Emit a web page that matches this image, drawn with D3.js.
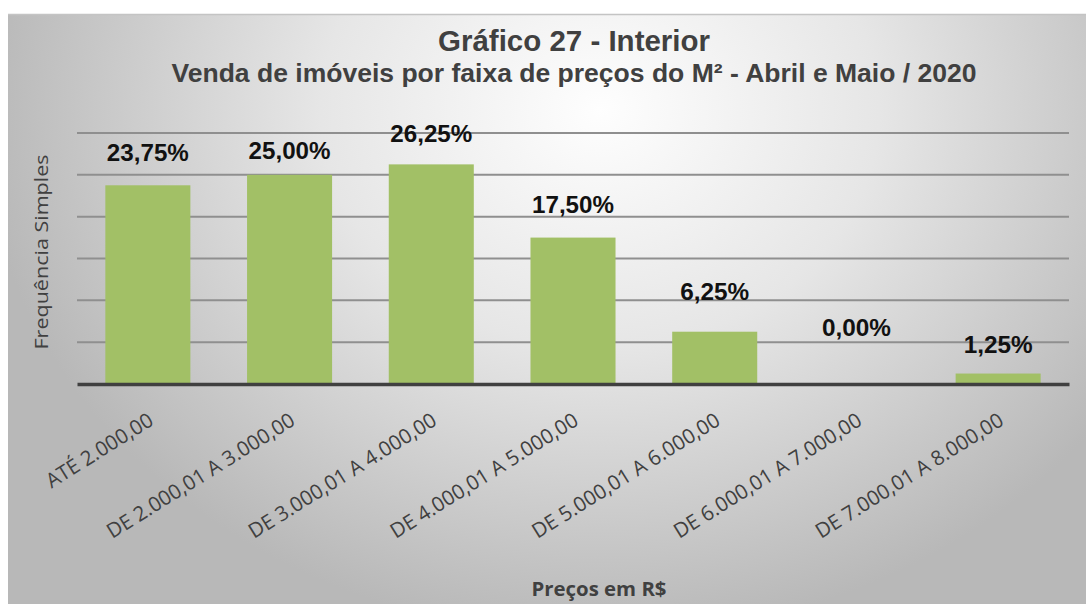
<!DOCTYPE html>
<html lang="pt">
<head>
<meta charset="utf-8">
<title>Gráfico 27 - Interior</title>
<script src="https://cdn.jsdelivr.net/npm/d3@7"></script>
<style>
    html, body { margin: 0; padding: 0; background: #fff; }
    svg { display: block; }
</style>
</head>
<body>
<script>
    // dados
    var faixas = ["ATÉ 2.000,00", "DE 2.000,01 A 3.000,00", "DE 3.000,01 A 4.000,00",
        "DE 4.000,01 A 5.000,00", "DE 5.000,01 A 6.000,00", "DE 6.000,01 A 7.000,00",
        "DE 7.000,01 A 8.000,00"];
    var valores = [23.75, 25.00, 26.25, 17.50, 6.25, 0.00, 1.25];
    var rotulos = ["23,75%", "25,00%", "26,25%", "17,50%", "6,25%", "0,00%", "1,25%"];
    var ticksY = [0, 5, 10, 15, 20, 25, 30];

    // distancia do rotulo ao topo da barra (como no original)
    var elevacao = [24, 16, 22, 25, 32, 48, 21];

    var width = 1086, height = 604;

    var svg = d3.select("body").append("svg")
        .attr("width", width)
        .attr("height", height);

    var defs = svg.append("defs");
    var grad = defs.append("radialGradient")
        .attr("id", "fundo")
        .attr("gradientUnits", "userSpaceOnUse")
        .attr("cx", 600).attr("cy", 110).attr("r", 620)
        .attr("gradientTransform", "translate(600,110) scale(1,0.85) translate(-600,-110)");
    grad.append("stop").attr("offset", "0").attr("stop-color", "#fefefe");
    grad.append("stop").attr("offset", "0.45").attr("stop-color", "#e6e6e6");
    grad.append("stop").attr("offset", "1").attr("stop-color", "#b8b8b8");

    svg.append("rect")
        .attr("x", 8).attr("y", 14)
        .attr("width", width - 8).attr("height", height - 14)
        .attr("fill", "url(#fundo)");
    svg.append("line")
        .attr("x1", 8).attr("x2", width).attr("y1", 14.5).attr("y2", 14.5)
        .attr("stroke", "#c4c4c4").attr("stroke-width", 1.5);

    var x = d3.scaleBand()
        .domain(faixas)
        .range([77, 1069])
        .paddingInner(0.4)
        .paddingOuter(0.2);

    var y = d3.scaleLinear()
        .domain([0, 30])
        .range([384, 133]);

    // grade
    svg.append("g")
        .selectAll("line")
        .data(ticksY.slice(1))
        .join("line")
        .attr("x1", 77).attr("x2", 1069)
        .attr("y1", d => y(d)).attr("y2", d => y(d))
        .attr("stroke", "#8f8f8f")
        .attr("stroke-width", 2);

    // barras
    svg.append("g")
        .selectAll("rect")
        .data(valores)
        .join("rect")
        .attr("x", (d, i) => x(faixas[i]))
        .attr("width", x.bandwidth())
        .attr("y", d => y(d))
        .attr("height", d => y(0) - y(d))
        .attr("fill", "#a2c066");

    // eixo x
    var eixoX = svg.append("g")
        .attr("transform", `translate(0,${y(0)})`)
        .call(d3.axisBottom(x).tickSize(0).tickPadding(0));
    eixoX.select(".domain")
        .attr("stroke", "#404040")
        .attr("stroke-width", 3.5);
    eixoX.selectAll(".tick text")
        .attr("font-family", "'Open Sans', sans-serif")
        .attr("font-size", 20.5)
        .attr("fill", "#404040")
        .attr("text-anchor", "end")
        .attr("dy", 0)
        .attr("y", 0)
        .attr("transform", "translate(7,40) rotate(-32)");

    // rotulos de valor
    svg.append("g")
        .selectAll("text")
        .data(valores)
        .join("text")
        .attr("x", (d, i) => x(faixas[i]) + x.bandwidth() / 2)
        .attr("y", (d, i) => y(d) - elevacao[i])
        .attr("text-anchor", "middle")
        .attr("font-family", "Arial, 'Liberation Sans', sans-serif")
        .attr("font-weight", "bold")
        .attr("font-size", 24)
        .attr("fill", "#111")
        .attr("textLength", (d, i) => rotulos[i].length > 5 ? 82 : 69)
        .attr("lengthAdjust", "spacingAndGlyphs")
        .text((d, i) => rotulos[i]);

    // titulos
    svg.append("text")
        .attr("x", 574).attr("y", 51)
        .attr("text-anchor", "middle")
        .attr("font-family", "Arial, 'Liberation Sans', sans-serif")
        .attr("font-weight", "bold")
        .attr("font-size", 29)
        .attr("fill", "#404040")
        .attr("textLength", 272)
        .attr("lengthAdjust", "spacingAndGlyphs")
        .text("Gráfico 27 - Interior");

    svg.append("text")
        .attr("x", 574).attr("y", 82)
        .attr("text-anchor", "middle")
        .attr("font-family", "Arial, 'Liberation Sans', sans-serif")
        .attr("font-weight", "bold")
        .attr("font-size", 25)
        .attr("fill", "#404040")
        .attr("textLength", 805)
        .attr("lengthAdjust", "spacingAndGlyphs")
        .text("Venda de imóveis por faixa de preços do M² - Abril e Maio / 2020");

    svg.append("text")
        .attr("transform", "translate(48,252) rotate(-90)")
        .attr("text-anchor", "middle")
        .attr("font-family", "'Open Sans', sans-serif")
        .attr("font-size", 19)
        .attr("fill", "#404040")
        .attr("textLength", 195)
        .attr("lengthAdjust", "spacingAndGlyphs")
        .text("Frequência Simples");

    svg.append("text")
        .attr("x", 599).attr("y", 596)
        .attr("text-anchor", "middle")
        .attr("font-family", "'Open Sans', sans-serif")
        .attr("font-weight", "bold")
        .attr("font-size", 19)
        .attr("fill", "#404040")
        .attr("textLength", 135)
        .attr("lengthAdjust", "spacingAndGlyphs")
        .text("Preços em R$");
</script>
</body>
</html>
